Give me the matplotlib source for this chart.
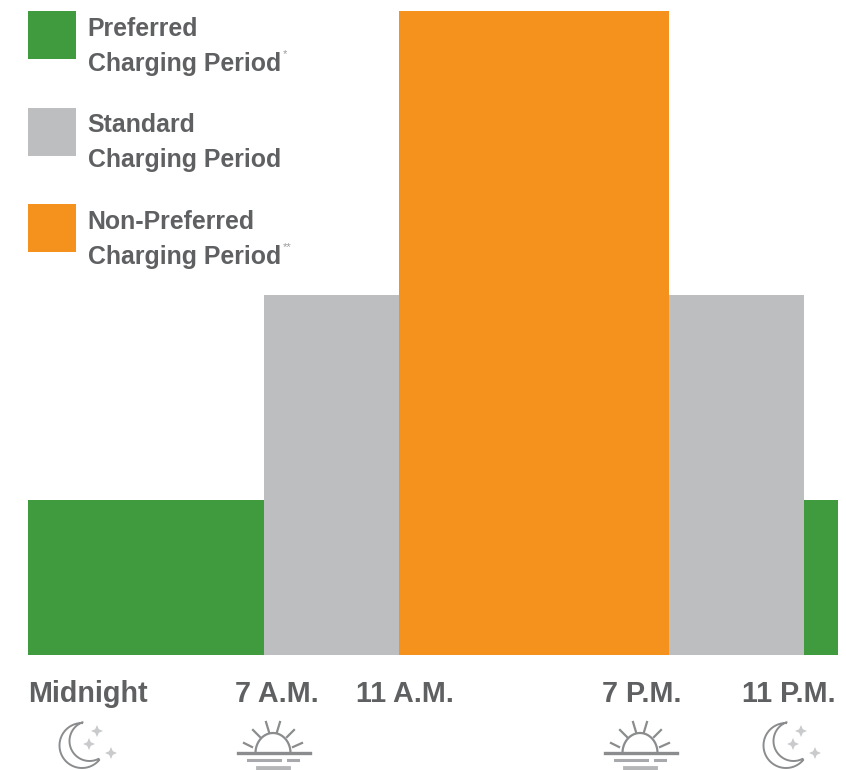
import numpy as np
import matplotlib
matplotlib.use("Agg")
import matplotlib.pyplot as plt
from matplotlib.patches import Rectangle
from matplotlib.transforms import ScaledTranslation

W, H = 846, 770
# Hour boundaries of each period and relative bar height
period_start = [0, 7, 11, 19, 23]
period_end = [7, 11, 19, 23, 24]
period_height = [155, 360, 644, 360, 155]
period_kind = ["preferred", "standard", "nonpreferred", "standard", "preferred"]
tick_hours = [0, 7, 11, 19, 23]
tick_labels = ["Midnight", "7 A.M.", "11 A.M.", "7 P.M.", "11 P.M."]
tick_nudge_px = [60, 13, 6, -27, -15]
legend_lines = ["Preferred\nCharging Period", "Standard\nCharging Period", "Non-Preferred\nCharging Period"]
legend_marks = ["*", "", "**"]
legend_kinds = ["preferred", "standard", "nonpreferred"]
colors = {"preferred": "#3f9b3d", "standard": "#bcbec0", "nonpreferred": "#f5921e"}
TEXT = "#5f6062"
FONT = ["Liberation Sans", "DejaVu Sans"]

fig = plt.figure(figsize=(W / 100, H / 100), dpi=100, facecolor="white")
ax = fig.add_axes([27.5 / W, 1 - 655 / H, (838 - 27.5) / W, (655 - 11) / H])
ax.bar(period_start, period_height,
       width=[e - s for s, e in zip(period_start, period_end)],
       align="edge", color=[colors[k] for k in period_kind], linewidth=0)
ax.set_xlim(0, 24)
ax.set_ylim(0, 644)
ax.set_yticks([])
for s in ax.spines.values():
    s.set_visible(False)
ax.set_xticks(tick_hours)
ax.set_xticklabels(tick_labels, family=FONT, fontweight="bold", fontsize=20.7, color=TEXT)
ax.tick_params(axis="x", length=0, pad=18)
for lab, dx in zip(ax.get_xticklabels(), tick_nudge_px):
    lab.set_transform(lab.get_transform() + ScaledTranslation(dx / 100, 0, fig.dpi_scale_trans))

# Overlay in pixel coordinates for the legend and the decorative icons
ov = fig.add_axes([0, 0, 1, 1], facecolor="none")
ov.set_xlim(0, W)
ov.set_ylim(H, 0)
ov.axis("off")

for i, (txt, mark, kind) in enumerate(zip(legend_lines, legend_marks, legend_kinds)):
    y0 = 11 + i * 96.5
    ov.add_patch(Rectangle((28, y0), 48, 48, color=colors[kind], lw=0))
    l1, l2 = txt.split("\n")
    for yy, t in ((y0 + 25, l1), (y0 + 60, l2)):
        ov.text(87.5, yy, t, family=FONT, fontweight="bold", fontsize=17.9, color=TEXT,
                va="baseline", ha="left")
    if mark:
        ov.text(283, y0 + 43, mark, family=FONT, fontsize=8, color="#9a9b9d", va="center", ha="left")

ICON = "#8a8c8e"
STAR = "#c9cacc"

def star(cx, cy, r=6):
    ov.fill([cx, cx + r * .3, cx + r, cx + r * .3, cx, cx - r * .3, cx - r, cx - r * .3],
            [cy - r, cy - r * .3, cy, cy + r * .3, cy + r, cy + r * .3, cy, cy - r * .3],
            fc=STAR, ec="none")

def moon(ox):
    t = np.radians(np.linspace(90, 320, 60))
    outer_x, outer_y = ox + 82 + 22.5 * np.cos(t), 745.5 - 22.5 * np.sin(t)
    t2 = np.radians(np.linspace(110, 297, 60))
    inner_x, inner_y = ox + 89.5 + 20 * np.cos(t2), 741 - 20 * np.sin(t2)
    ov.plot(np.r_[outer_x, inner_x[::-1], outer_x[0]], np.r_[outer_y, inner_y[::-1], outer_y[0]],
            color=ICON, lw=1.4, solid_joinstyle="round")
    star(ox + 97, 731)
    star(ox + 89, 744)
    star(ox + 111, 753)

RAYS = [(-4, 732, -7, 722), (4, 732, 7, 722), (-13, 737, -20, 730), (14, 737, 21, 730),
        (-21, 747, -29, 743), (20, 747, 29, 743)]

def sun(ox):
    cx, cy = ox + 273, 753
    t = np.linspace(0, np.pi, 50)
    ov.plot(cx + 17.5 * np.cos(t), cy - 20 * np.sin(t), color=ICON, lw=1.6)
    for x1, y1, x2, y2 in RAYS:
        ov.plot([cx + x1, cx + x2], [y1, y2], color=ICON, lw=1.6)
    ov.plot([cx - 35, cx + 37], [cy, cy], color=ICON, lw=2.4)
    ov.plot([cx - 25, cx + 7], [cy + 7, cy + 7], color="#a7a9ac", lw=2.2)
    ov.plot([cx + 15, cx + 25], [cy + 7, cy + 7], color="#a7a9ac", lw=2.2)
    ov.plot([cx - 15, cx + 15], [cy + 15, cy + 15], color="#b5b6b8", lw=3.5)

moon(0)
moon(704)
sun(0)
sun(367)

fig.savefig("out.png", dpi=100, facecolor="white")
